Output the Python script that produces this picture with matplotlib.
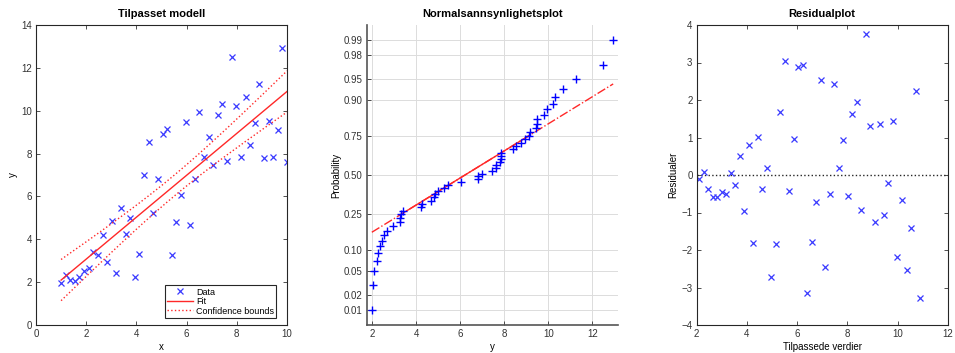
import numpy as np
import matplotlib
matplotlib.use("Agg")
import matplotlib.pyplot as plt
from statistics import NormalDist

plt.rcParams['font.family'] = ['Liberation Sans', 'DejaVu Sans']
plt.rcParams['font.size'] = 7

# data
x = [1.00, 1.18, 1.37, 1.55, 1.73, 1.92, 2.10, 2.29, 2.47, 2.65,
     2.84, 3.02, 3.20, 3.39, 3.57, 3.76, 3.94, 4.12, 4.31, 4.49,
     4.67, 4.86, 5.04, 5.22, 5.41, 5.59, 5.78, 5.96, 6.14, 6.33,
     6.51, 6.69, 6.88, 7.06, 7.24, 7.43, 7.61, 7.80, 7.98, 8.16,
     8.35, 8.53, 8.71, 8.90, 9.08, 9.27, 9.45, 9.63, 9.82, 10.00]
y = [1.98, 2.35, 2.09, 2.04, 2.23, 2.53, 2.66, 3.41, 3.26, 4.21,
     2.93, 4.87, 2.44, 5.45, 4.25, 4.98, 2.24, 3.31, 7.01, 8.54,
     5.25, 6.82, 8.92, 9.17, 3.25, 4.79, 6.05, 9.47, 4.68, 6.80,
     9.92, 7.84, 8.77, 7.46, 9.82, 10.32, 7.64, 12.51, 10.22, 7.84,
     10.65, 8.39, 9.42, 11.26, 7.80, 9.51, 7.84, 9.12, 12.95, 7.61]

prob_ticks = [0.01, 0.02, 0.05, 0.10, 0.25, 0.50, 0.75, 0.90, 0.95, 0.98, 0.99]

x = np.array(x)
y = np.array(y)
n = len(y)
nd = NormalDist()

# linear fit + confidence bounds for the function
b, a = np.polyfit(x, y, 1)
fitted = a + b * x
resid = y - fitted
s = np.sqrt(np.sum(resid ** 2) / (n - 2))
sxx = np.sum((x - x.mean()) ** 2)
t = 2.0106  # t(0.975, 48)
xx = np.linspace(x.min(), x.max(), 200)
yy = a + b * xx
half = t * s * np.sqrt(1.0 / n + (xx - x.mean()) ** 2 / sxx)

fig = plt.figure(figsize=(9.55, 3.53), dpi=100)
W, H = 955.0, 353.0


def make_ax(left):
    return fig.add_axes([left / W, 28 / H, 251 / W, 300 / H])


def box_style(ax):
    for sp in ax.spines.values():
        sp.set_color('#262626')
        sp.set_linewidth(0.8)
    ax.tick_params(direction='in', top=True, right=True, length=3,
                   width=0.6, colors='#333333', labelsize=7, pad=3)


# --- left: fitted model
ax1 = make_ax(36)
ax1.plot(x, y, 'x', color='#3a3aff', ms=5, mew=0.9, label='Data')
ax1.plot(xx, yy, '-', color='#ff2828', lw=1.0, label='Fit')
ax1.plot(xx, yy + half, ':', color='#ff2828', lw=1.0, label='Confidence bounds')
ax1.plot(xx, yy - half, ':', color='#ff2828', lw=1.0)
ax1.set_xlim(0, 10)
ax1.set_ylim(0, 14)
ax1.set_xticks(range(0, 11, 2))
ax1.set_yticks(range(0, 15, 2))
box_style(ax1)
ax1.set_title('Tilpasset modell', fontsize=8, fontweight='bold', pad=6)
ax1.set_xlabel('x', labelpad=2)
ax1.set_ylabel('y', labelpad=2)
leg = ax1.legend(loc='lower right', bbox_to_anchor=(0.958, 0.024),
                 borderaxespad=0, fontsize=6.5, fancybox=False,
                 edgecolor='#262626', framealpha=1, handlelength=2.9,
                 labelspacing=0.05, borderpad=0.25, handletextpad=0.35)
leg.get_frame().set_linewidth(0.8)

# --- middle: normal probability plot
ax2 = make_ax(367)
ys = np.sort(y)
pp = (np.arange(1, n + 1) - 0.5) / n
zz = np.array([nd.inv_cdf(p) for p in pp])
q1, q3 = np.percentile(y, [25, 75], method='hazen')
z1, z3 = nd.inv_cdf(0.25), nd.inv_cdf(0.75)
slope = (z3 - z1) / (q3 - q1)
lx = np.array([ys[0], ys[-1]])
ax2.plot(lx, z1 + slope * (lx - q1), '-.', color='#ff2828', lw=1.0)
ax2.plot([q1, q3], [z1, z3], '-', color='#ff2828', lw=1.0)
ax2.plot(ys, zz, '+', color='#0000ff', ms=6, mew=1.0)
rng = ys[-1] - ys[0]
ax2.set_xlim(ys[0] - 0.02 * rng, ys[-1] + 0.02 * rng)
zl = nd.inv_cdf(1 - 0.25 / n)
ax2.set_ylim(-zl, zl)
ax2.set_yticks([nd.inv_cdf(p) for p in prob_ticks])
ax2.set_yticklabels(['%.2f' % p for p in prob_ticks])
ax2.set_xticks(range(2, 13, 2))
ax2.grid(True, color='#dcdcdc', lw=0.7)
ax2.set_axisbelow(True)
ax2.spines['top'].set_visible(False)
ax2.spines['right'].set_visible(False)
for k in ('left', 'bottom'):
    ax2.spines[k].set_color('#555555')
    ax2.spines[k].set_linewidth(1.2)
ax2.tick_params(direction='in', length=3, width=0.6, colors='#333333',
                labelsize=7, pad=3)
ax2.set_title('Normalsannsynlighetsplot', fontsize=8, fontweight='bold', pad=6)
ax2.set_xlabel('y', labelpad=2)
ax2.set_ylabel('Probability', labelpad=2)

# --- right: residual plot
ax3 = make_ax(696.7)
ax3.plot([2, 12], [0, 0], ':', color='#262626', lw=1.0)
ax3.plot(fitted, resid, 'x', color='#3a3aff', ms=5, mew=0.9)
ax3.set_xlim(2, 12)
ax3.set_ylim(-4, 4)
ax3.set_xticks(range(2, 13, 2))
ax3.set_yticks(range(-4, 5))
box_style(ax3)
ax3.set_title('Residualplot', fontsize=8, fontweight='bold', pad=6)
ax3.set_xlabel('Tilpassede verdier', labelpad=2)
ax3.set_ylabel('Residualer', labelpad=2)

fig.savefig('out.png', dpi=100)
